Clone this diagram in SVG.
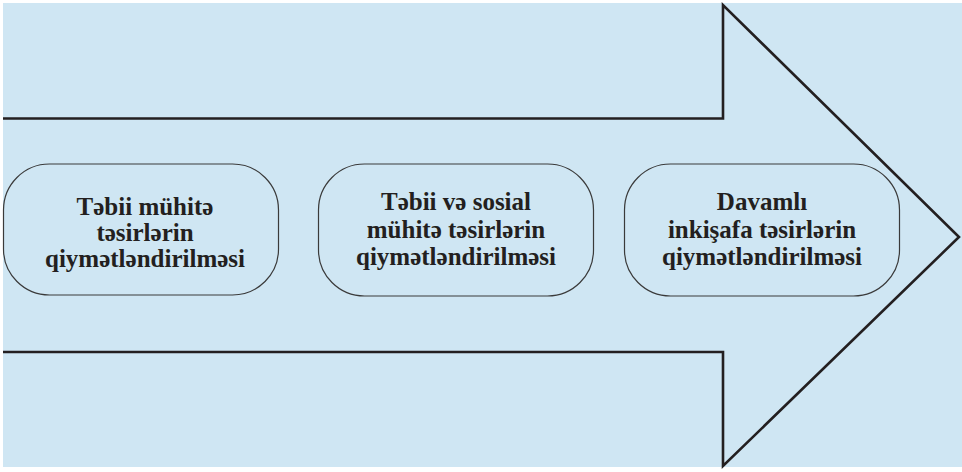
<svg xmlns="http://www.w3.org/2000/svg" width="962" height="472" viewBox="0 0 962 472">
<style>
.node{fill:none;stroke:#3a3a3a;stroke-width:1.2}
.lbl{font-family:"Liberation Serif","DejaVu Serif",serif;font-weight:bold;font-size:25px;fill:#231f20;text-anchor:middle}
.arrow{fill:none;stroke:#231f20;stroke-width:2.6;stroke-linejoin:miter}
</style>
<rect x="0" y="0" width="962" height="472" fill="#ffffff"/>
<rect x="3" y="3" width="959" height="464" fill="#cfe6f3"/>
<g id="connectors">
<path class="arrow" d="M3,118.5 H723 V5 L959,237 L723,466 V352 H3"/>
</g>
<g id="node1">
<rect class="node" x="3.5" y="164" width="275" height="131" rx="46" ry="46"/>
<text class="lbl" x="145" y="215">Təbii mühitə</text>
<text class="lbl" x="145" y="241">təsirlərin</text>
<text class="lbl" x="145" y="267">qiymətləndirilməsi</text>
</g>
<g id="node2">
<rect class="node" x="318.5" y="164" width="275" height="132" rx="46" ry="46"/>
<text class="lbl" x="456" y="210">Təbii və sosial</text>
<text class="lbl" x="456" y="238">mühitə təsirlərin</text>
<text class="lbl" x="456" y="265">qiymətləndirilməsi</text>
</g>
<g id="node3">
<rect class="node" x="624.5" y="164" width="275" height="132" rx="46" ry="46"/>
<text class="lbl" x="762" y="210">Davamlı</text>
<text class="lbl" x="762" y="238">inkişafa təsirlərin</text>
<text class="lbl" x="762" y="265">qiymətləndirilməsi</text>
</g>
</svg>
